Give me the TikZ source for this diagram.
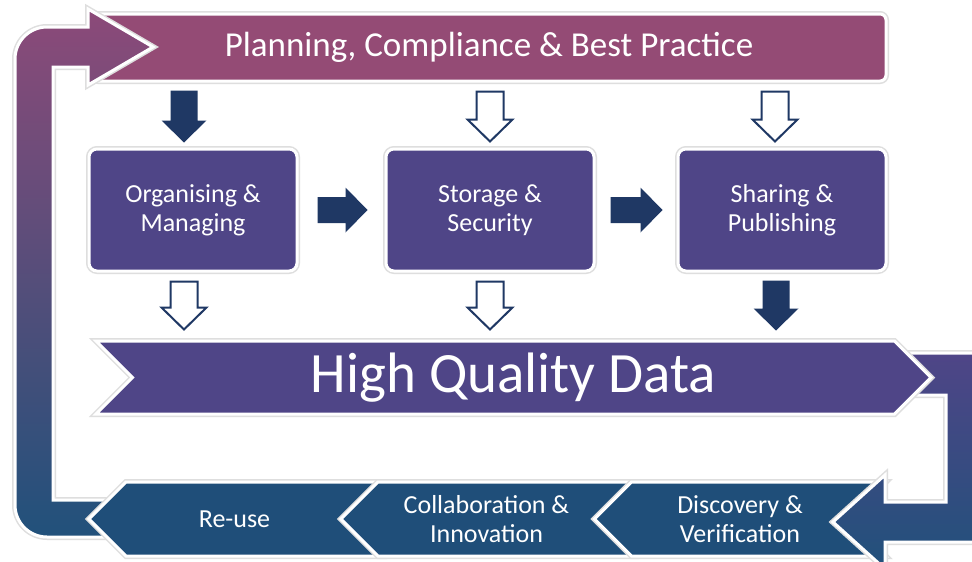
\documentclass[tikz,border=0pt]{standalone}
\usepackage{fontspec}
\setmainfont{Carlito}
\usepackage{tikz}
\usetikzlibrary{calc,shapes.symbols}

\definecolor{plancol}{HTML}{944B75}
\definecolor{boxcol}{HTML}{4F4587}
\definecolor{chevcol}{HTML}{1F4E79}
\definecolor{arrowcol}{HTML}{1F3864}
\definecolor{looptop}{HTML}{8C4A79}
\definecolor{loopbot}{HTML}{21517B}

\newcommand{\blkdown}[3]{%
  \path[#1] let \p1=(#2), \p2=(#3) in
    (\x1-13.5pt,\y1) -- (\x1+13.5pt,\y1) -- (\x1+13.5pt,\y2+22pt) -- (\x1+22.5pt,\y2+22pt)
    -- (\x1,\y2) -- (\x1-22.5pt,\y2+22pt) -- (\x1-13.5pt,\y2+22pt) -- cycle;}
\newcommand{\blkright}[3]{%
  \path[#1] let \p1=(#2), \p2=(#3) in
    (\x1,\y1+13pt) -- (\x2-22pt,\y1+13pt) -- (\x2-22pt,\y1+22.5pt) -- (\x2,\y1)
    -- (\x2-22pt,\y1-22.5pt) -- (\x2-22pt,\y1-13pt) -- (\x1,\y1-13pt) -- cycle;}

\begin{document}
\begin{tikzpicture}[x=1pt,y=-1pt,
    rim/.style={draw=white,line width=3pt,preaction={draw=black!13,line width=6pt}},
    banner_node/.style={rim,rectangle,rounded corners=6pt,fill=plancol,text=white,
        minimum width=794,minimum height=67,font=\fontsize{35}{42}\selectfont},
    box_node/.style={rim,rectangle,rounded corners=8pt,fill=boxcol,text=white,align=center,
        minimum width=208,minimum height=122,font=\fontsize{26}{29}\selectfont},
    hqd_node/.style={rim,signal,signal from=west,signal to=east,signal pointer angle=90,
        fill=boxcol,text=white,minimum width=835,minimum height=73,inner sep=0pt,
        font=\fontsize{57}{64}\selectfont},
    chev_node/.style={rim,signal,signal to=west,signal from=east,signal pointer angle=90,
        fill=chevcol,text=white,align=center,minimum width=291,minimum height=74,inner sep=0pt,
        font=\fontsize{26}{29}\selectfont},
    band/.style={rim},
    solid_arrow/.style={fill=arrowcol},
    hollow_arrow/.style={fill=white,draw=arrowcol,line width=2pt}]

    \path[use as bounding box,fill=white] (0,0) rectangle (972,562);

    \node[banner_node] (plan) at (489,47.5) {Planning, Compliance \& Best Practice};

    \path[band,top color=looptop,middle color=boxcol,bottom color=loopbot]
    (88,9) -- (153,47) -- (88,85) -- (88,67) -- (53,67) -- (53,500) -- (110,500) -- (110,537)
    [rounded corners=32pt] -- (15,537) -- (15,27) [sharp corners] -- (88,27) -- cycle;

    \node[box_node] (org) at (193,210) {Organising \&\\Managing};
    \node[box_node] (sto) at (490,210) {Storage \&\\Security};
    \node[box_node] (sha) at (782,210) {Sharing \&\\Publishing};

    \blkdown{solid_arrow}{$(plan.south -| org.north)+(-9,8)$}{$(org.north)+(-9,-5)$}
    \blkdown{hollow_arrow}{$(plan.south -| sto.north)+(0,9)$}{$(sto.north)+(0,-6)$}
    \blkdown{hollow_arrow}{$(plan.south -| sha.north)+(-7,9)$}{$(sha.north)+(-7,-6)$}

    \blkright{solid_arrow}{$(org.east)+(19,0)$}{$(sto.west)+(-17,0)$}
    \blkright{solid_arrow}{$(sto.east)+(15,0)$}{$(sha.west)+(-14,0)$}

    \node[chev_node] (reuse) at (234.5,519) {Re-use};
    \node[chev_node] (collab) at (486.5,519) {Collaboration \&\\Innovation};
    \node[chev_node] (disc) at (740,519) {Discovery \&\\Verification};

    \path[band,top color=boxcol,bottom color=loopbot]
    (895,353) -- (985,353) -- (985,542) -- (885,542) -- (885,569) -- (833,522) -- (885,475)
    -- (885,502) -- (946,502) -- (946,395) -- (895,395) -- cycle;

    \node[hqd_node] (hqd) at (513.5,377.5) {High Quality Data};

    \blkdown{hollow_arrow}{$(org.south)+(-9,9)$}{$(org.south |- hqd.north)+(-9,-10)$}
    \blkdown{hollow_arrow}{$(sto.south)+(0,9)$}{$(sto.south |- hqd.north)+(0,-10)$}
    \blkdown{solid_arrow}{$(sha.south)+(-6,8)$}{$(sha.south |- hqd.north)+(-6,-9)$}
    \end{tikzpicture}
\end{document}
